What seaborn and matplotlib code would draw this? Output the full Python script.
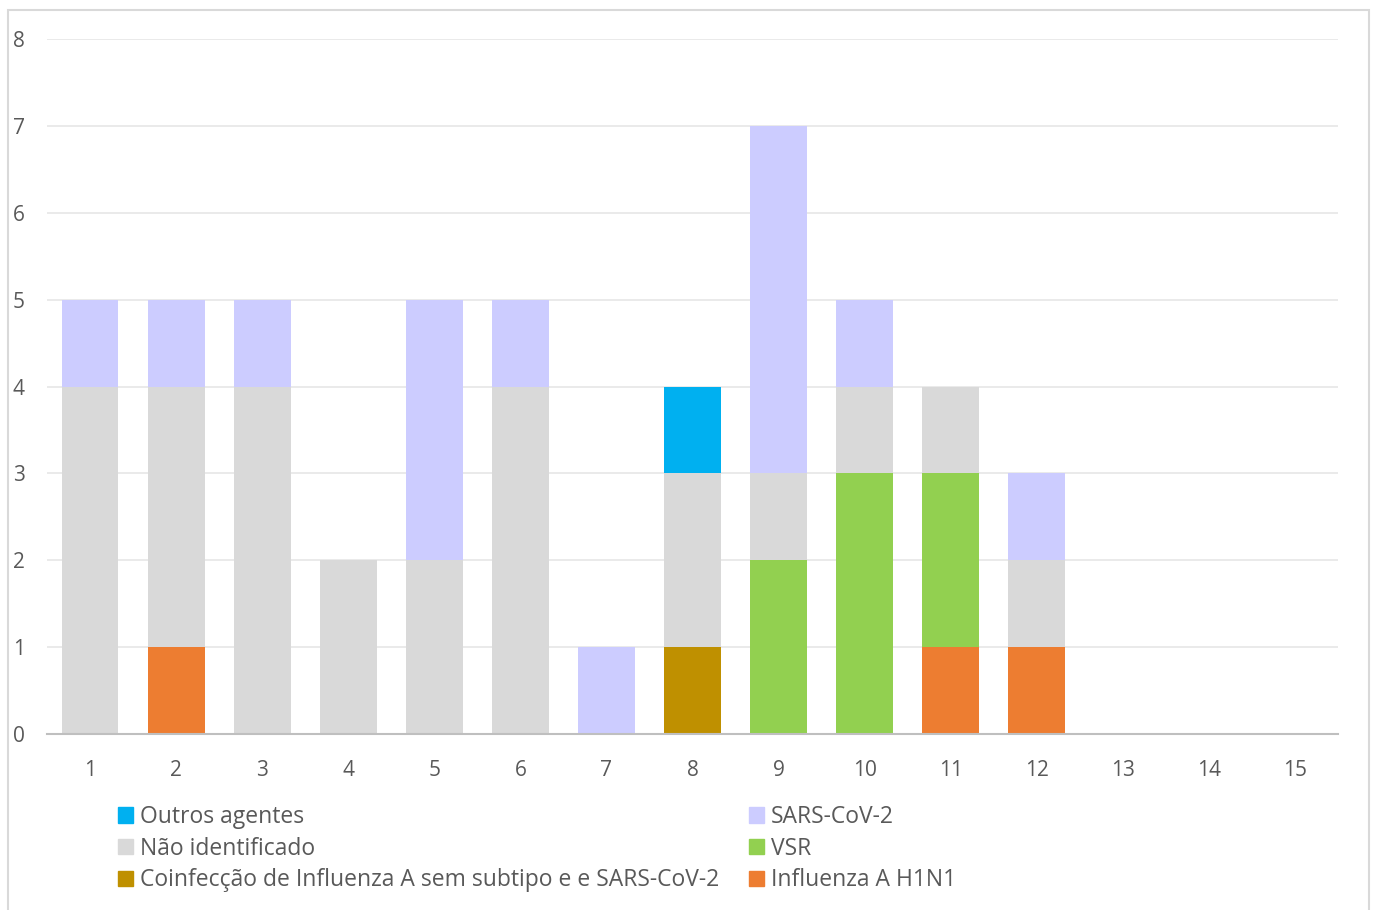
import numpy as np
import pandas as pd
import matplotlib
matplotlib.use("Agg")
import matplotlib.pyplot as plt
import matplotlib.patches as mpatches
import seaborn as sns

# Data (stack order bottom -> top)
semanas = [str(i) for i in range(1, 16)]
h1n1 = [0, 1, 0, 0, 0, 0, 0, 0, 0, 0, 1, 1, 0, 0, 0]
coinfeccao = [0, 0, 0, 0, 0, 0, 0, 1, 0, 0, 0, 0, 0, 0, 0]
vsr = [0, 0, 0, 0, 0, 0, 0, 0, 2, 3, 2, 0, 0, 0, 0]
nao_ident = [4, 3, 4, 2, 2, 4, 0, 2, 1, 1, 1, 1, 0, 0, 0]
sars = [1, 1, 1, 0, 3, 1, 1, 0, 4, 1, 0, 1, 0, 0, 0]
outros = [0, 0, 0, 0, 0, 0, 0, 1, 0, 0, 0, 0, 0, 0, 0]

series = [
    ("Influenza A H1N1", h1n1, "#ED7D31"),
    ("Coinfecção de Influenza A sem subtipo e e SARS-CoV-2", coinfeccao, "#BF9000"),
    ("VSR", vsr, "#92D050"),
    ("Não identificado", nao_ident, "#D9D9D9"),
    ("SARS-CoV-2", sars, "#CCCCFF"),
    ("Outros agentes", outros, "#00B0F0"),
]

sns.set_style("white")
plt.rcParams["font.family"] = ["Open Sans", "DejaVu Sans"]

fig = plt.figure(figsize=(13.75, 9.1), dpi=100)
ax = fig.add_axes([47 / 1375, 1 - 734 / 910, (1338 - 47) / 1375, (734 - 39) / 910])

# cumulative tops, drawn from the top layer down so each layer covers the next
cum = np.cumsum([np.array(s[1]) for s in series], axis=0)
for i in range(len(series) - 1, -1, -1):
    df = pd.DataFrame({"semana": semanas, "valor": cum[i]})
    sns.barplot(data=df, x="semana", y="valor", color=series[i][2],
                width=0.66, saturation=1, ax=ax, zorder=2, linewidth=0)

ax.set_ylim(0, 8)
ax.set_xlim(-0.5, 14.5)
ax.set_yticks(range(0, 9))
ax.set_xlabel("")
ax.set_ylabel("")
ax.grid(axis="y", color="#E6E6E6", linewidth=1.2, zorder=0)
ax.set_axisbelow(True)
for side in ["left", "right", "top"]:
    ax.spines[side].set_visible(False)
ax.spines["bottom"].set_color("#BFBFBF")
ax.spines["bottom"].set_linewidth(1.5)
ax.tick_params(axis="y", length=0, pad=24.5, labelsize=15, labelcolor="#595959")
ax.tick_params(axis="x", length=0, pad=19, labelsize=15, labelcolor="#595959")
for lab in ax.get_yticklabels():
    lab.set_horizontalalignment("left")

# legend: two columns, row order Outros/SARS, Não/VSR, Coinf/H1N1
col1 = [series[5], series[3], series[1]]
col2 = [series[4], series[2], series[0]]
handles = [mpatches.Patch(color=c, label=n) for n, _, c in col1 + col2]
leg = fig.legend(handles=handles, ncol=2, loc="upper left",
                 bbox_to_anchor=(109 / 1375, 1 - 796 / 910), frameon=False,
                 fontsize=16.5, labelcolor="#595959", handlelength=0.65,
                 handleheight=0.65, handletextpad=0.3, labelspacing=0.33,
                 columnspacing=1.3, borderaxespad=0)

# figure border
fig.patches.append(mpatches.Rectangle((8 / 1375, -0.01), (1369 - 8) / 1375, 1 - 10 / 910 + 0.01,
                                      transform=fig.transFigure, fill=False,
                                      edgecolor="#D9D9D9", linewidth=1.5))

fig.savefig("out.png", dpi=100)
